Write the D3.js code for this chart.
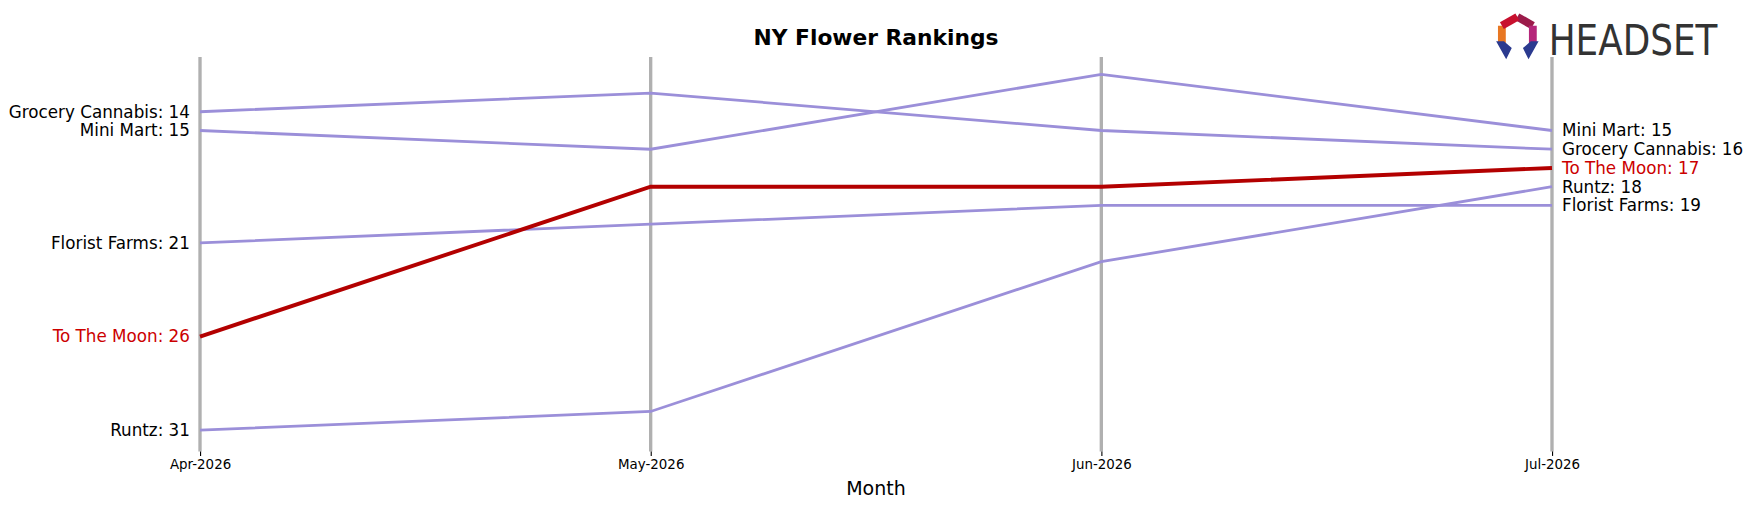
<!DOCTYPE html>
<html><head><meta charset="utf-8">
<script src="https://cdn.jsdelivr.net/npm/d3@7"></script>
<style>body{margin:0;background:#fff;overflow:hidden}text{font-family:"DejaVu Sans",sans-serif}</style>
</head><body><svg id="c" width="1752" height="507" viewBox="0 0 1568 453.7"></svg>
<script>
const months=["Apr-2026","May-2026","Jun-2026","Jul-2026"];
const brands=["Grocery Cannabis","Mini Mart","Florist Farms","To The Moon","Runtz"];
const grocery=[14,13,15,16];
const miniMart=[15,16,12,15];
const florist=[21,20,19,19];
const moon=[26,18,18,17];
const runtz=[31,30,22,18];
const series=[grocery,miniMart,florist,moon,runtz];
const highlight="To The Moon";

const svg=d3.select("#c");
const x=d3.scalePoint().domain(months).range([179,1389]);
const y=d3.scaleLinear().domain([14,31]).range([100,385]);
const yTop=y.invert(51), yBot=y.invert(404);

svg.selectAll(".g").data(months).enter().append("line")
 .attr("x1",d=>x(d)).attr("x2",d=>x(d)).attr("y1",y(yTop)).attr("y2",y(yBot))
 .attr("stroke","#b0b0b0").attr("stroke-width",3);

const ax=svg.append("g").attr("transform",`translate(0,${y(yBot)})`)
 .call(d3.axisBottom(x).tickSize(4).tickPadding(3));
ax.select(".domain").remove();
ax.selectAll("text").attr("font-size",12).attr("font-family","DejaVu Sans");

const line=d3.line().x((d,i)=>x(months[i])).y(d=>y(d));
const order=brands.map((b,i)=>i).sort((a,b)=>(brands[a]===highlight)-(brands[b]===highlight));
order.forEach(i=>{
 const hl=brands[i]===highlight;
 svg.append("path").attr("d",line(series[i])).attr("fill","none")
  .attr("stroke",hl?"#b30000":"#9b8fd9").attr("stroke-width",hl?3.5:2.5);
});
brands.forEach((b,i)=>{
 const hl=b===highlight, c=hl?"#cc0000":"#000";
 svg.append("text").attr("x",x(months[0])-9).attr("y",y(series[i][0])).attr("dy","0.35em")
  .attr("text-anchor","end").attr("font-size",15).attr("fill",c).text(`${b}: ${series[i][0]}`);
 svg.append("text").attr("x",x(months[3])+9).attr("y",y(series[i][3])).attr("dy","0.35em")
  .attr("font-size",15).attr("fill",c).text(`${b}: ${series[i][3]}`);
});
svg.append("text").attr("x",784).attr("y",40).attr("text-anchor","middle")
 .attr("font-size",19.5).attr("font-weight","bold").text("NY Flower Rankings");
svg.append("text").attr("x",784).attr("y",443).attr("text-anchor","middle")
 .attr("font-size",17).text("Month");
// logo
const lg=svg.append("g").attr("transform","translate(1358,31)");
const hex=d3.range(6).map(k=>{const a=Math.PI/3*k-Math.PI/2;return [16*Math.cos(a),16*Math.sin(a)];});
const cols=["#9b1b4a","#b5267a","#2b3a8f","#2b3a8f","#e87722","#c8102e"];
for(let k=0;k<6;k++){const p=hex[k],q=hex[(k+1)%6];
 if(k===2||k===3) continue;
 lg.append("line").attr("x1",p[0]).attr("y1",p[1]).attr("x2",q[0]).attr("y2",q[1]).attr("stroke",cols[k]).attr("stroke-width",7);}
lg.append("path").attr("d","M-19,6 L-10,22 L-5,12 L-12,6 Z M19,6 L10,22 L5,12 L12,6 Z").attr("fill","#2b3a8f");
svg.append("text").attr("x",1386).attr("y",49).attr("font-size",38).attr("font-family","Liberation Sans Narrow, DejaVu Sans Condensed, sans-serif")
 .attr("fill","#333").attr("textLength",151).attr("lengthAdjust","spacingAndGlyphs").text("HEADSET");
</script></body></html>
